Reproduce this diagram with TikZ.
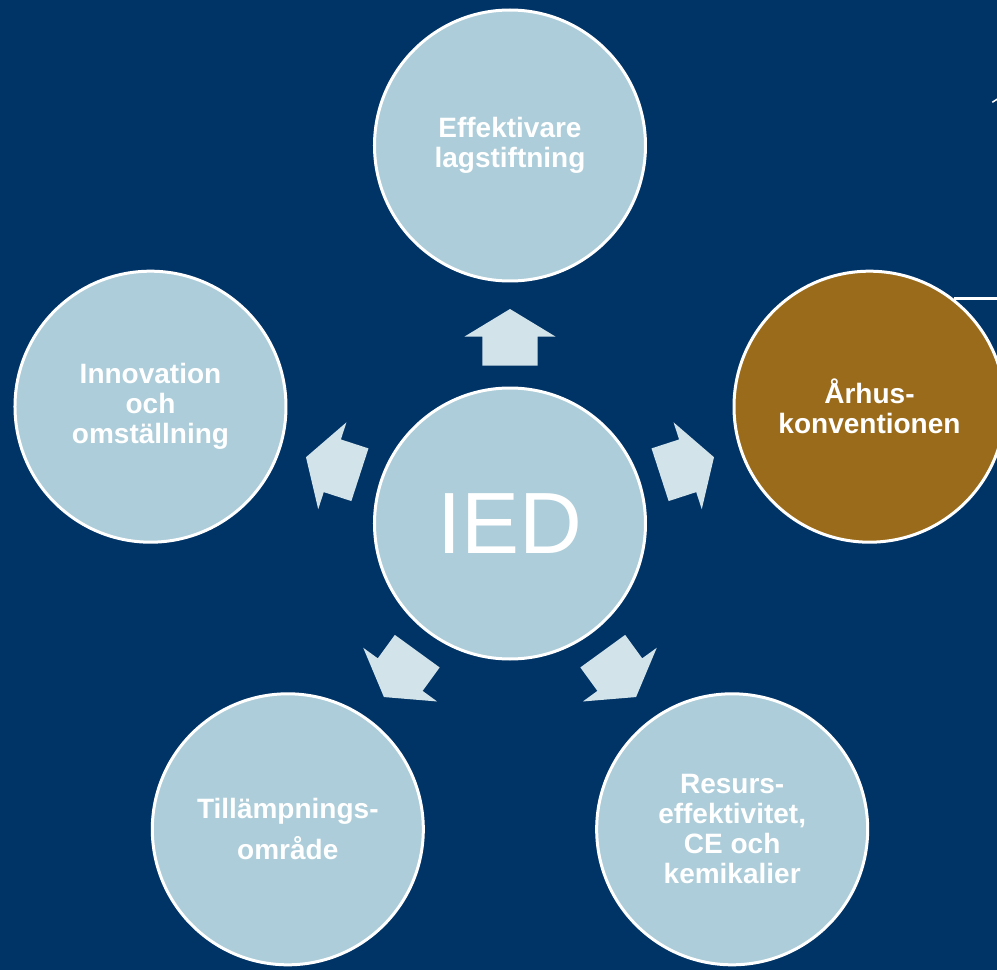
\documentclass[tikz,border=0pt]{standalone}
\usepackage{fontspec}
\setmainfont{Liberation Sans}
\usepackage{tikz}
\usetikzlibrary{positioning}

\definecolor{navy}{RGB}{0,51,102}
\definecolor{paleblue}{RGB}{172,205,217}
\definecolor{arrowblue}{RGB}{210,227,234}
\definecolor{brown}{RGB}{154,107,26}

\tikzset{
  topic/.style={circle, draw=white, line width=3pt, fill=paleblue, minimum size=271pt,
    inner sep=0pt, text=white, align=center, font=\bfseries\fontsize{28}{30}\selectfont},
  blockarrow/.style={fill=arrowblue}
}

\begin{document}
\begin{tikzpicture}[x=1pt,y=1pt]
    % background
    \useasboundingbox (-510,-446.5) rectangle (487,523.5);
    \fill[navy] (-510,-446.5) rectangle (487,523.5);

    % centre
    \node[topic, font=\fontsize{87}{90}\selectfont] (ied) at (0,0) {IED};

    % outer circles
    \node[topic] (lag) at (90:378) {Effektivare\\lagstiftning};
    \node[topic, fill=brown] (arhus) at (18:378) {Århus-\\konventionen};
    \node[topic] (resurs) at (-54:378) {Resurs-\\effektivitet,\\CE och\\kemikalier};
    \node[topic] (omrade) at (234:378) {Tillämpnings-\\[11pt]område};
    \node[topic] (innov) at (162:378) {Innovation\\och\\omställning};

    % line behind the right circle
    \draw[white, line width=2.5pt] (arhus.52) -- ++(60,0);
    \draw[white, line width=1.5pt] (482.3,421.2) -- (487.5,424.5);

    % arrows
    \foreach \a in {90,18,-54,234,162}{
      \begin{scope}[shift={(ied.center)}, rotate=\a]
        \fill[blockarrow] (157.8,-27.7) -- (186.8,-27.7) -- (186.8,-45.7) -- (214.5,0)
          -- (186.8,45.7) -- (186.8,27.7) -- (157.8,27.7) -- cycle;
      \end{scope}
    }
\end{tikzpicture}
\end{document}
